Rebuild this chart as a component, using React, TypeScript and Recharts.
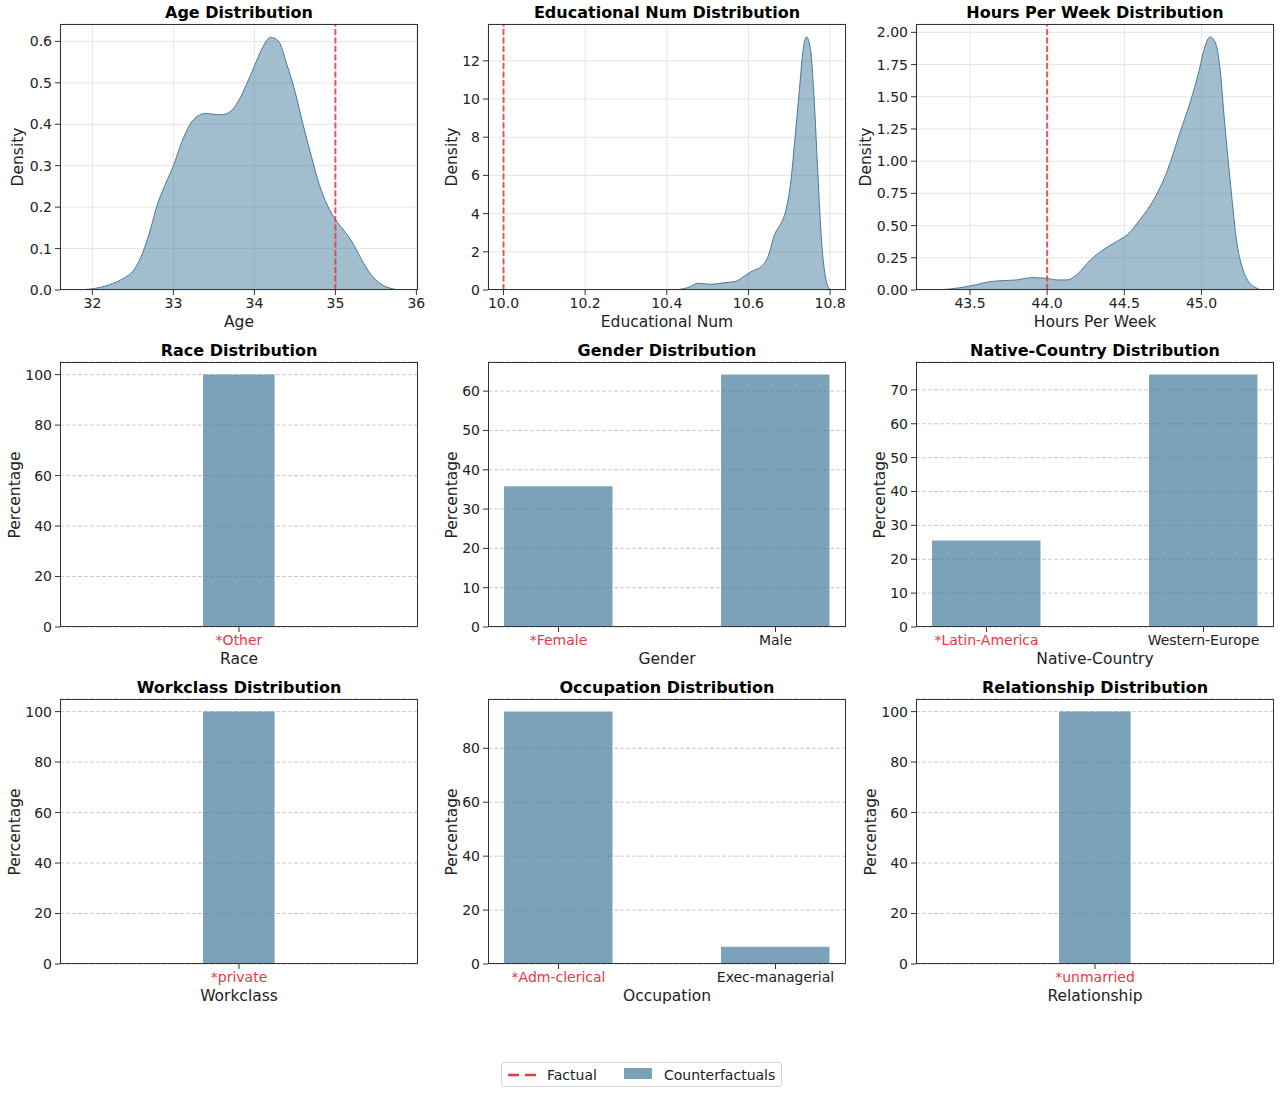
import React from 'react'
import { ComposedChart, BarChart, Area, Bar, XAxis, YAxis, CartesianGrid, ReferenceLine } from 'recharts'

const BLUE = '#457b9d'
const RED = '#e63946'
const INK = '#222'
const FONT = '"DejaVu Sans", Verdana, sans-serif'

// plot-area geometry of the 3x3 grid
const PLOT_W = 358
const COLS = [60, 488, 916]
const ROWS = [24, 362, 699]
const PLOT_H = [266, 265, 265]

// ---- KDE curves ----
const ageX = [31.79, 32.0, 32.2, 32.4, 32.5, 32.6, 32.7, 32.8, 32.9, 33.0, 33.1, 33.2, 33.3, 33.4, 33.5, 33.6, 33.7, 33.8, 33.9, 34.0, 34.1, 34.2, 34.3, 34.4, 34.5, 34.6, 34.7, 34.8, 34.9, 35.0, 35.1, 35.2, 35.3, 35.4, 35.5, 35.6, 35.7, 35.82]
const ageDensity = [0, 0.003, 0.012, 0.03, 0.045, 0.08, 0.135, 0.205, 0.255, 0.3, 0.355, 0.398, 0.42, 0.426, 0.424, 0.423, 0.43, 0.455, 0.495, 0.54, 0.585, 0.61, 0.6, 0.545, 0.48, 0.4, 0.325, 0.255, 0.205, 0.17, 0.145, 0.118, 0.082, 0.048, 0.024, 0.01, 0.003, 0]
const ageFactual = 35
const ageTicks = [32, 33, 34, 35, 36]
const ageDensityTicks = [0, 0.1, 0.2, 0.3, 0.4, 0.5, 0.6]

const eduX = [10.41, 10.44, 10.46, 10.475, 10.49, 10.51, 10.53, 10.55, 10.57, 10.59, 10.61, 10.63, 10.648, 10.664, 10.68, 10.692, 10.705, 10.713, 10.725, 10.733, 10.742, 10.752, 10.761, 10.77, 10.779, 10.787, 10.795, 10.8]
const eduDensity = [0, 0.06, 0.2, 0.35, 0.33, 0.3, 0.35, 0.4, 0.46, 0.73, 1.0, 1.2, 1.75, 2.9, 3.5, 4.2, 5.9, 7.7, 10.5, 12.4, 13.25, 12.6, 10.0, 6.1, 2.6, 0.9, 0.17, 0.03]
const eduFactual = 10.0
const eduTicks = [10.0, 10.2, 10.4, 10.6, 10.8]
const eduDensityTicks = [0, 2, 4, 6, 8, 10, 12]

const hoursX = [43.267, 43.37, 43.5, 43.63, 43.716, 43.8, 43.9, 44.0, 44.065, 44.13, 44.19, 44.28, 44.36, 44.45, 44.52, 44.6, 44.69, 44.78, 44.86, 44.93, 44.98, 45.02, 45.055, 45.09, 45.12, 45.15, 45.19, 45.23, 45.27, 45.315, 45.37]
const hoursDensity = [0, 0.008, 0.031, 0.065, 0.073, 0.078, 0.096, 0.09, 0.078, 0.078, 0.117, 0.233, 0.31, 0.376, 0.43, 0.544, 0.7, 0.93, 1.22, 1.47, 1.68, 1.88, 1.965, 1.92, 1.72, 1.3, 0.8, 0.36, 0.155, 0.05, 0.01]
const hoursFactual = 44.0
const hoursTicks = [43.5, 44.0, 44.5, 45.0]
const hoursDensityTicks = [0, 0.25, 0.5, 0.75, 1.0, 1.25, 1.5, 1.75, 2.0]

// ---- categorical distributions (percent), factual category starred ----
const raceCats = ['*Other']
const raceVals = [100]
const genderCats = ['*Female', 'Male']
const genderVals = [35.8, 64.2]
const countryCats = ['*Latin-America', 'Western-Europe']
const countryVals = [25.5, 74.5]
const workclassCats = ['*private']
const workclassVals = [100]
const occupationCats = ['*Adm-clerical', 'Exec-managerial']
const occupationVals = [93.6, 6.4]
const relationshipCats = ['*unmarried']
const relationshipVals = [100]

const ticks100 = [0, 20, 40, 60, 80, 100]
const genderTicks = [0, 10, 20, 30, 40, 50, 60]
const countryTicks = [0, 10, 20, 30, 40, 50, 60, 70]
const occupationTicks = [0, 20, 40, 60, 80]

const tickStyle = { fontSize: 14, fill: INK, fontFamily: FONT }

function Frame({ col, row, title, xLabel, yLabel, yGap, children }: any) {
  const left = COLS[col]
  const top = ROWS[row]
  const h = PLOT_H[row]
  return (
    <>
      <div style={{ position: 'absolute', left: left - 60, top: top - 10 }}>{children}</div>
      <div style={{ position: 'absolute', left, top, width: PLOT_W, height: h, border: '1px solid #333', boxSizing: 'border-box', pointerEvents: 'none' }} />
      <div style={{ position: 'absolute', left: left - 40, width: PLOT_W + 80, top: top - 21, lineHeight: '20px', textAlign: 'center', fontSize: 16, fontWeight: 'bold', color: '#000' }}>
        {title}
      </div>
      <div style={{ position: 'absolute', left, width: PLOT_W, top: top + h + 22, lineHeight: '20px', textAlign: 'center', fontSize: 15.5, color: INK }}>
        {xLabel}
      </div>
      <div
        style={{
          position: 'absolute', left: left - yGap - 100, top: top + h / 2 - 10, width: 200, lineHeight: '20px',
          textAlign: 'center', fontSize: 15.5, color: INK, transform: 'rotate(-90deg)',
        }}
      >
        {yLabel}
      </div>
    </>
  )
}

function KdePanel({ col, xs, ys, factual, xDomain, xTicks, yDomain, yTicks, xFmt, yFmt, ...rest }: any) {
  const h = PLOT_H[0]
  const data = xs.map((x: number, i: number) => ({ x, y: ys[i] }))
  return (
    <Frame col={col} row={0} {...rest}>
      <ComposedChart width={60 + PLOT_W + 10} height={10 + h + 40} data={data} margin={{ top: 10, right: 10, left: 0, bottom: 0 }}>
        <CartesianGrid stroke="#e6e6e6" />
        <XAxis
          type="number" dataKey="x" domain={xDomain} ticks={xTicks} allowDataOverflow interval={0}
          tickFormatter={xFmt} tick={tickStyle} tickSize={5} tickMargin={3} axisLine={false} tickLine={{ stroke: '#333' }} height={40}
        />
        <YAxis
          type="number" domain={yDomain} ticks={yTicks} allowDataOverflow interval={0}
          tickFormatter={yFmt} tick={tickStyle} tickSize={5} tickMargin={3} axisLine={false} tickLine={{ stroke: '#333' }} width={60}
        />
        <Area type="monotone" dataKey="y" stroke={BLUE} strokeWidth={1} fill={BLUE} fillOpacity={0.5} isAnimationActive={false} />
        <ReferenceLine x={factual} stroke={RED} strokeWidth={2} strokeOpacity={0.85} strokeDasharray="6 2.5" />
      </ComposedChart>
    </Frame>
  )
}

function BarPanel({ col, row, cats, vals, yTicks, ...rest }: any) {
  const h = PLOT_H[row]
  const data = cats.map((name: string, i: number) => ({ pos: i, name, value: vals[i] }))
  const single = cats.length === 1
  const xDomain = single ? [-1, 1] : [-0.325, cats.length - 1 + 0.325]
  const barUnits = single ? 0.4 : 0.5
  const barSize = (barUnits * PLOT_W) / (xDomain[1] - xDomain[0])
  const yMax = Math.max(...vals) * 1.05
  const CatTick = (p: any) => {
    const label = cats[p.payload.value]
    return (
      <text x={p.x} y={p.y} dy={10} textAnchor="middle" fontSize={14} fontFamily={FONT} fill={label && label.startsWith('*') ? RED : INK}>
        {label}
      </text>
    )
  }
  return (
    <Frame col={col} row={row} {...rest}>
      <BarChart width={60 + PLOT_W + 10} height={10 + h + 40} data={data} margin={{ top: 10, right: 10, left: 0, bottom: 0 }}>
        <CartesianGrid vertical={false} stroke="#cccccc" strokeDasharray="4 2" />
        <XAxis
          type="number" dataKey="pos" domain={xDomain} ticks={cats.map((_: string, i: number) => i)} allowDataOverflow interval={0}
          tick={CatTick} tickSize={5} tickMargin={3} axisLine={false} tickLine={{ stroke: '#333' }} height={40}
        />
        <YAxis
          type="number" domain={[0, yMax]} ticks={yTicks} allowDataOverflow interval={0}
          tick={tickStyle} tickSize={5} tickMargin={3} axisLine={false} tickLine={{ stroke: '#333' }} width={60}
        />
        <Bar dataKey="value" fill={BLUE} fillOpacity={0.7} barSize={barSize} isAnimationActive={false} />
      </BarChart>
    </Frame>
  )
}

function FigureLegend() {
  return (
    <div
      style={{
        position: 'absolute', left: 501, top: 1062, width: 281, height: 25, boxSizing: 'border-box',
        border: '1px solid #d6d6d6', borderRadius: 3, fontSize: 14, color: INK,
      }}
    >
      <svg width={30} height={10} style={{ position: 'absolute', left: 5, top: 7 }}>
        <line x1={1} y1={5} x2={29} y2={5} stroke={RED} strokeWidth={2.5} strokeDasharray="11 6" />
      </svg>
      <span style={{ position: 'absolute', left: 45, top: 3, lineHeight: '18px' }}>Factual</span>
      <div style={{ position: 'absolute', left: 122, top: 5, width: 28, height: 11, background: BLUE, opacity: 0.7 }} />
      <span style={{ position: 'absolute', left: 162, top: 3, lineHeight: '18px' }}>Counterfactuals</span>
    </div>
  )
}

export default function App() {
  return (
    <div style={{ position: 'absolute', left: 0, top: 0, width: 1281, height: 1094, background: '#fff', fontFamily: FONT }}>
      <KdePanel
        col={0} title="Age Distribution" xLabel="Age" yLabel="Density" yGap={42}
        xs={ageX} ys={ageDensity} factual={ageFactual} xDomain={[31.6, 36.02]} xTicks={ageTicks}
        yDomain={[0, 0.642]} yTicks={ageDensityTicks} xFmt={(v: number) => String(v)} yFmt={(v: number) => v.toFixed(1)}
      />
      <KdePanel
        col={1} title="Educational Num Distribution" xLabel="Educational Num" yLabel="Density" yGap={36}
        xs={eduX} ys={eduDensity} factual={eduFactual} xDomain={[9.962, 10.839]} xTicks={eduTicks}
        yDomain={[0, 13.93]} yTicks={eduDensityTicks} xFmt={(v: number) => v.toFixed(1)} yFmt={(v: number) => String(v)}
      />
      <KdePanel
        col={2} title="Hours Per Week Distribution" xLabel="Hours Per Week" yLabel="Density" yGap={50}
        xs={hoursX} ys={hoursDensity} factual={hoursFactual} xDomain={[43.15, 45.47]} xTicks={hoursTicks}
        yDomain={[0, 2.065]} yTicks={hoursDensityTicks} xFmt={(v: number) => v.toFixed(1)} yFmt={(v: number) => v.toFixed(2)}
      />

      <BarPanel col={0} row={1} title="Race Distribution" xLabel="Race" yLabel="Percentage" yGap={45} cats={raceCats} vals={raceVals} yTicks={ticks100} />
      <BarPanel col={1} row={1} title="Gender Distribution" xLabel="Gender" yLabel="Percentage" yGap={36} cats={genderCats} vals={genderVals} yTicks={genderTicks} />
      <BarPanel col={2} row={1} title="Native-Country Distribution" xLabel="Native-Country" yLabel="Percentage" yGap={36} cats={countryCats} vals={countryVals} yTicks={countryTicks} />

      <BarPanel col={0} row={2} title="Workclass Distribution" xLabel="Workclass" yLabel="Percentage" yGap={45} cats={workclassCats} vals={workclassVals} yTicks={ticks100} />
      <BarPanel col={1} row={2} title="Occupation Distribution" xLabel="Occupation" yLabel="Percentage" yGap={36} cats={occupationCats} vals={occupationVals} yTicks={occupationTicks} />
      <BarPanel col={2} row={2} title="Relationship Distribution" xLabel="Relationship" yLabel="Percentage" yGap={45} cats={relationshipCats} vals={relationshipVals} yTicks={ticks100} />

      <FigureLegend />
    </div>
  )
}
